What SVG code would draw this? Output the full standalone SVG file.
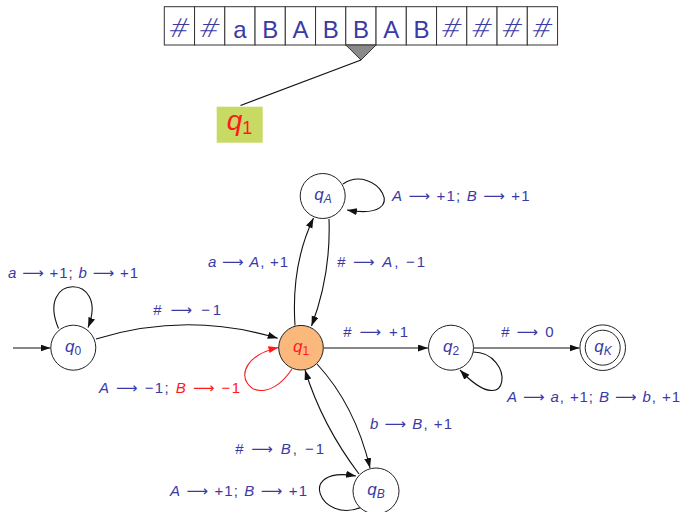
<svg xmlns="http://www.w3.org/2000/svg" width="681" height="512" viewBox="0 0 681 512">
<defs>
<marker id="ah" markerUnits="userSpaceOnUse" markerWidth="11" markerHeight="8" refX="10" refY="3.5" orient="auto"><path d="M0,0 L10,3.5 L0,7 z" fill="#111"/></marker>
<marker id="ahr" markerUnits="userSpaceOnUse" markerWidth="11" markerHeight="8" refX="10" refY="3.5" orient="auto"><path d="M0,0 L10,3.5 L0,7 z" fill="#ff1a1a"/></marker>
<style>
.cell{fill:#fff;stroke:#333;stroke-width:1}
.tt{font-family:"Liberation Sans","DejaVu Sans",sans-serif;font-size:24px;fill:#3a3aa6;text-anchor:middle}
.hs{font-family:"DejaVu Sans",sans-serif;font-size:26px;font-weight:300}
.node{fill:#fff;stroke:#222;stroke-width:1}
.nl{font-family:"Liberation Sans","DejaVu Sans",sans-serif;font-size:17px;fill:#3a3aa6;text-anchor:middle}
.lb{font-family:"Liberation Sans","DejaVu Sans",sans-serif;font-size:15px;fill:#3a3aa6}
.e{fill:none;stroke:#111;stroke-width:1.1;marker-end:url(#ah)}
.i{font-style:italic}
.red{fill:#ff1a1a}
</style>
</defs>
<rect width="681" height="512" fill="#fff"/>
<g id="tape">
<rect class="cell" x="164.3" y="6.7" width="30.25" height="38.3"/>
<rect class="cell" x="194.55" y="6.7" width="30.25" height="38.3"/>
<rect class="cell" x="224.8" y="6.7" width="30.25" height="38.3"/>
<rect class="cell" x="255.05" y="6.7" width="30.25" height="38.3"/>
<rect class="cell" x="285.3" y="6.7" width="30.25" height="38.3"/>
<rect class="cell" x="315.55" y="6.7" width="30.25" height="38.3"/>
<rect class="cell" x="345.8" y="6.7" width="30.25" height="38.3"/>
<rect class="cell" x="376.05" y="6.7" width="30.25" height="38.3"/>
<rect class="cell" x="406.3" y="6.7" width="30.25" height="38.3"/>
<rect class="cell" x="436.55" y="6.7" width="30.25" height="38.3"/>
<rect class="cell" x="466.8" y="6.7" width="30.25" height="38.3"/>
<rect class="cell" x="497.05" y="6.7" width="30.25" height="38.3"/>
<rect class="cell" x="527.3" y="6.7" width="30.25" height="38.3"/>
<text class="tt hs" transform="translate(179.6,28) skewX(-12)" x="0" y="9">#</text>
<text class="tt hs" transform="translate(209.9,28) skewX(-12)" x="0" y="9">#</text>
<text class="tt" x="239.9" y="37.5">a</text>
<text class="tt" x="270.2" y="37.5">B</text>
<text class="tt" x="300.4" y="37.5">A</text>
<text class="tt" x="330.7" y="37.5">B</text>
<text class="tt" x="360.9" y="37.5">B</text>
<text class="tt" x="391.2" y="37.5">A</text>
<text class="tt" x="421.4" y="37.5">B</text>
<text class="tt hs" transform="translate(451.9,28) skewX(-12)" x="0" y="9">#</text>
<text class="tt hs" transform="translate(482.1,28) skewX(-12)" x="0" y="9">#</text>
<text class="tt hs" transform="translate(512.4,28) skewX(-12)" x="0" y="9">#</text>
<text class="tt hs" transform="translate(542.6,28) skewX(-12)" x="0" y="9">#</text>
</g>
<g id="head">
<path d="M345.8,45 L376.1,45 L361,60 z" fill="#8a8a8a" stroke="#333" stroke-width="1"/>
<path d="M361,60 L240.5,105.5" stroke="#111" stroke-width="1.3" fill="none"/>
<rect x="216.7" y="106.7" width="46" height="36" fill="#c8d964"/>
<text x="239.5" y="129.5" font-family="Liberation Sans, DejaVu Sans, sans-serif" font-size="28" fill="#ff1a1a" text-anchor="middle"><tspan font-style="italic">q</tspan><tspan font-size="18" dy="4">1</tspan></text>
</g>
<g id="connectors">
<path class="e" d="M13,348 L50.5,348"/>
<path class="e" d="M58.5,328.5 C35,273 110,273 88,327.5"/>
<path class="e" d="M96,339 Q187,311 277.7,338.3"/>
<path class="e" d="M295,325.5 Q291,265 313.5,218"/>
<path class="e" d="M329,219 Q331,275 311.5,326"/>
<path class="e" d="M343,184 C375,162 415,222 347,210"/>
<path d="M292,369 C256,422 214,362 278.5,347.5" fill="none" stroke="#ff1a1a" stroke-width="1.1" marker-end="url(#ahr)"/>
<path class="e" d="M323.5,348 L428,348"/>
<path class="e" d="M473.5,348 L579.5,348"/>
<path class="e" d="M473,352 C515,352 512,425 460,370"/>
<path class="e" d="M317,364 Q355,405 370,468"/>
<path class="e" d="M359,474 Q322,425 305,370"/>
<path class="e" d="M362,507 C320,525 295,465 356,476"/>
</g>
<g id="labels">
<text class="lb" x="8" y="278" textLength="130" lengthAdjust="spacing"><tspan class="i">a</tspan> ⟶ +1; <tspan class="i">b</tspan> ⟶ +1</text>
<text class="lb" x="153" y="315" textLength="68" lengthAdjust="spacing"><tspan class="i">#</tspan> ⟶ −1</text>
<text class="lb" x="208" y="267" textLength="80" lengthAdjust="spacing"><tspan class="i">a</tspan> ⟶ <tspan class="i">A</tspan>, +1</text>
<text class="lb" x="337" y="267" textLength="88" lengthAdjust="spacing"><tspan class="i">#</tspan> ⟶ <tspan class="i">A</tspan>, −1</text>
<text class="lb" x="392" y="200.5" textLength="137.5" lengthAdjust="spacing"><tspan class="i">A</tspan> ⟶ +1; <tspan class="i">B</tspan> ⟶ +1</text>
<text class="lb" x="343" y="336.5" textLength="65" lengthAdjust="spacing"><tspan class="i">#</tspan> ⟶ +1</text>
<text class="lb" x="501" y="336.5" textLength="52.5" lengthAdjust="spacing"><tspan class="i">#</tspan> ⟶ 0</text>
<text class="lb" x="507" y="402" textLength="173" lengthAdjust="spacing"><tspan class="i">A</tspan> ⟶ <tspan class="i">a</tspan>, +1; <tspan class="i">B</tspan> ⟶ <tspan class="i">b</tspan>, +1</text>
<text class="lb" x="99" y="393" textLength="141" lengthAdjust="spacing"><tspan class="i">A</tspan> ⟶ −1; <tspan class="i red">B</tspan><tspan class="red"> ⟶ −1</tspan></text>
<text class="lb" x="370" y="428.5" textLength="82" lengthAdjust="spacing"><tspan class="i">b</tspan> ⟶ <tspan class="i">B</tspan>, +1</text>
<text class="lb" x="235" y="454" textLength="89" lengthAdjust="spacing"><tspan class="i">#</tspan> ⟶ <tspan class="i">B</tspan>, −1</text>
<text class="lb" x="170" y="496" textLength="137" lengthAdjust="spacing"><tspan class="i">A</tspan> ⟶ +1; <tspan class="i">B</tspan> ⟶ +1</text>
</g>
<g id="q0"><circle class="node" cx="73.3" cy="347.7" r="22.5"/><text class="nl" x="73" y="352"><tspan class="i">q</tspan><tspan font-size="12" dy="3">0</tspan></text></g>
<g id="q1"><circle cx="301" cy="347.7" r="22.3" fill="#fbb87c" stroke="#222" stroke-width="1"/><text class="nl red" x="301" y="352"><tspan class="i">q</tspan><tspan font-size="12" dy="3">1</tspan></text></g>
<g id="qA"><circle class="node" cx="322.7" cy="196" r="22.5"/><text class="nl" x="323" y="200"><tspan class="i">q</tspan><tspan class="i" font-size="12" dy="3">A</tspan></text></g>
<g id="q2"><circle class="node" cx="451" cy="347.7" r="22.5"/><text class="nl" x="451" y="352"><tspan class="i">q</tspan><tspan font-size="12" dy="3">2</tspan></text></g>
<g id="qK"><circle class="node" cx="602.7" cy="347.7" r="22.8"/><circle class="node" cx="602.7" cy="347.7" r="17.5"/><text class="nl" x="603" y="352"><tspan class="i">q</tspan><tspan class="i" font-size="12" dy="3">K</tspan></text></g>
<g id="qB"><circle class="node" cx="376" cy="491" r="23"/><text class="nl" x="376" y="495"><tspan class="i">q</tspan><tspan class="i" font-size="12" dy="3">B</tspan></text></g>
</svg>
